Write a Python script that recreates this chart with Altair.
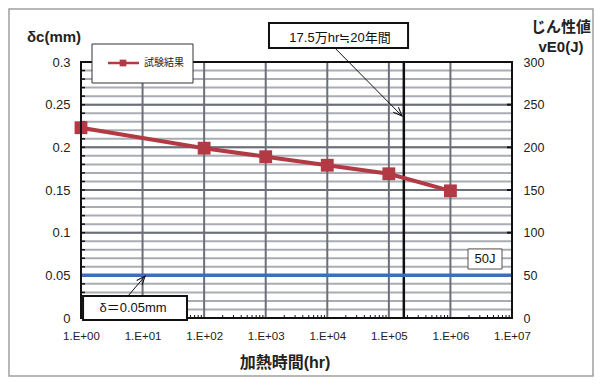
import altair as alt
import pandas as pd

# ---- data ----
hours = [1, 100, 1000, 10000, 100000, 1000000]
delta_c = [0.223, 0.199, 0.189, 0.179, 0.169, 0.149]
series_name = "試験結果"

x_ticks = [1, 10, 100, 1e3, 1e4, 1e5, 1e6, 1e7]
y_ticks = [0, 0.05, 0.1, 0.15, 0.2, 0.25, 0.3]
minor_y = [round(i * 0.01, 2) for i in range(31)]
decade_lines = [10, 100, 1e3, 1e4, 1e5, 1e6]
minor_x = [m * 10 ** d for d in range(7) for m in range(2, 10)]

life_hours = 175000          # 17.5万hr
threshold_mm = 0.05          # δ = 0.05mm  (50J)

# annotation boxes (data units)
ann_box = pd.DataFrame({
    "x": [1130, 1.08, 1.93e6], "x2": [2.05e5, 52.7, 6.88e6],
    "y": [0.3457, 0.0258, 0.0809], "y2": [0.3164, -0.0023, 0.0574],
    "w": [2, 2, 1], "c": ["#111111", "#111111", "#555555"],
})
ann_text = pd.DataFrame({
    "x": [1.61e4, 7.0, 3.64e6], "y": [0.328, 0.0117, 0.0691],
    "t": ["17.5万hr≒20年間", "δ＝0.05mm", "50J"],
})
ann_arrow = pd.DataFrame({
    "x": [1.33e4, 5.8], "y": [0.3164, 0.0258],
    "x2": [1.64e5, 11.0], "y2": [0.2367, 0.0492],
    "ang": [135.4, 40.4],
})

W, H = 431, 256
RED = "#b23a45"
BLUE = "#3d6fb6"
LIGHT = "#a9acb3"
DARK = "#6c6f79"
FONT = "Liberation Sans, Noto Sans CJK JP"

xs = alt.Scale(type="log", domain=[1, 1e7], nice=False)
ys = alt.Scale(domain=[0, 0.3], nice=False, zero=False)

def X(f, **kw):
    return alt.X(f, type="quantitative", scale=xs, axis=None, **kw)

def Y(f, **kw):
    return alt.Y(f, type="quantitative", scale=ys, axis=None, **kw)

df = pd.DataFrame({"h": hours, "d": delta_c})

grid_minor = alt.Chart(pd.DataFrame({"y": minor_y})).mark_rule(
    color=LIGHT, strokeWidth=2).encode(y=Y("y"))
grid_major = alt.Chart(pd.DataFrame({"y": y_ticks[1:-1]})).mark_rule(
    color=DARK, strokeWidth=2).encode(y=Y("y"))
grid_vert = alt.Chart(pd.DataFrame({"x": decade_lines})).mark_rule(
    color=DARK, strokeWidth=2).encode(x=X("x"))

left_ticks = alt.Chart(pd.DataFrame({"y": minor_y})).mark_rule(
    color="#111111", strokeWidth=1.5).encode(y=Y("y"), x=alt.value(0), x2=alt.value(4))
right_ticks = alt.Chart(pd.DataFrame({"y": y_ticks})).mark_rule(
    color="#111111", strokeWidth=2).encode(y=Y("y"), x=alt.value(W - 5), x2=alt.value(W))
bottom_ticks = alt.Chart(pd.DataFrame({"x": minor_x})).mark_rule(
    color="#111111", strokeWidth=1).encode(x=X("x"), y=alt.value(H - 3), y2=alt.value(H))

life_line = alt.Chart(pd.DataFrame({"x": [life_hours]})).mark_rule(
    color="#111111", strokeWidth=2.5).encode(x=X("x"))

thr_line = alt.Chart(pd.DataFrame({"y": [threshold_mm]})).mark_rule(
    color=BLUE, strokeWidth=3.5).encode(
    y=alt.Y("y:Q", scale=ys, axis=alt.Axis(
        orient="right", values=y_ticks, labelExpr="format(datum.value*1000, 'd')",
        title=None, grid=False, ticks=False, domain=False, labelPadding=11,
        labelFont="Liberation Sans", labelFontSize=12.5, labelColor="#222222",
        labelBaseline="middle")))

data_line = alt.Chart(df).mark_line(color=RED, strokeWidth=4).encode(
    x=alt.X("h:Q", scale=xs, axis=alt.Axis(
        values=x_ticks, labelExpr="'1.E+0' + round(log(datum.value)/LN10)",
        title=None, grid=False, ticks=False, domain=False, labelPadding=12,
        labelFont="Liberation Sans", labelFontSize=11.5, labelColor="#222222",
        labelFlush=False, labelOverlap=False)),
    y=alt.Y("d:Q", scale=ys, axis=alt.Axis(
        orient="left", values=y_ticks, format=".2~f", title=None, grid=False,
        ticks=False, domain=False, labelPadding=11, labelFont="Liberation Sans",
        labelFontSize=13, labelColor="#222222", labelBaseline="middle")))
data_pts = alt.Chart(df).mark_point(
    shape="square", filled=True, opacity=1, color=RED, size=165).encode(
    x=X("h"), y=Y("d"))

frame = alt.Chart(pd.DataFrame({"a": [0]})).mark_rect(
    fill=None, stroke="#111111", strokeWidth=2).encode(
    x=alt.value(0), x2=alt.value(W), y=alt.value(0), y2=alt.value(H))

outer = alt.Chart(pd.DataFrame({"a": [0]})).mark_rect(
    fill=None, stroke="#a0a0a0", strokeWidth=1.5).encode(
    x=alt.value(-72), x2=alt.value(W + 81), y=alt.value(-53), y2=alt.value(H + 58))

boxes = alt.Chart(ann_box).mark_rect(fill="white").encode(
    x=X("x"), x2="x2", y=Y("y"), y2="y2",
    stroke=alt.Color("c:N", scale=None),
    strokeWidth=alt.StrokeWidth("w:Q", scale=None))
box_text = alt.Chart(ann_text).mark_text(
    font=FONT, fontSize=13, color="#111111", align="center", baseline="middle").encode(
    x=X("x"), y=Y("y"), text="t:N")
arrows = alt.Chart(ann_arrow).mark_rule(color="#111111", strokeWidth=1).encode(
    x=X("x"), x2="x2", y=Y("y"), y2="y2")
heads = alt.Chart(ann_arrow).mark_point(
    shape="M -0.5 1.25 L 0 0 L 0.5 1.25", filled=False, color="#111111",
    strokeWidth=1, size=200, opacity=1).encode(
    x=X("x2"), y=Y("y2"), angle=alt.Angle("ang:Q", scale=None))

# legend
leg_box = alt.Chart(pd.DataFrame({"a": [0]})).mark_rect(
    fill="white", stroke="#333333", strokeWidth=1).encode(
    x=alt.value(11), x2=alt.value(112), y=alt.value(-18), y2=alt.value(21))
leg_line = alt.Chart(pd.DataFrame({"a": [0]})).mark_rule(
    color=RED, strokeWidth=2.5).encode(x=alt.value(27), x2=alt.value(58), y=alt.value(1))
leg_pt = alt.Chart(pd.DataFrame({"a": [0]})).mark_point(
    shape="square", filled=True, opacity=1, color=RED, size=45).encode(
    x=alt.value(42), y=alt.value(1))
leg_txt = alt.Chart(pd.DataFrame({"t": [series_name]})).mark_text(
    font="Noto Sans CJK JP", fontSize=10, color="#222222", align="left",
    baseline="middle").encode(x=alt.value(63), y=alt.value(1), text="t:N")

titles = alt.Chart(pd.DataFrame({
    "t": ["δc(mm)", "じん性値", "vE0(J)", "加熱時間(hr)"],
    "px": [-27, 480, 480, 204], "py": [-25, -35, -15, 301],
    "fs": [15, 15, 15, 16]})).mark_text(
    font=FONT, fontWeight="bold", color="#222222",
    align="center", baseline="middle").encode(
    x=alt.X("px:Q", scale=None, axis=None), y=alt.Y("py:Q", scale=None, axis=None),
    size=alt.Size("fs:Q", scale=None), text="t:N")

chart = alt.layer(
    outer, grid_minor, grid_major, grid_vert, left_ticks, right_ticks, bottom_ticks,
    life_line, thr_line, data_line, data_pts, frame,
    arrows, heads, boxes, box_text, leg_box, leg_line, leg_pt, leg_txt, titles,
).resolve_axis(x="independent", y="independent").properties(
    width=W, height=H, autosize="none",
    padding={"left": 73, "top": 54, "right": 82, "bottom": 59},
).configure_view(stroke=None).configure(background="white")

chart.save("out.html", embed_options={"renderer": "svg", "actions": False})
